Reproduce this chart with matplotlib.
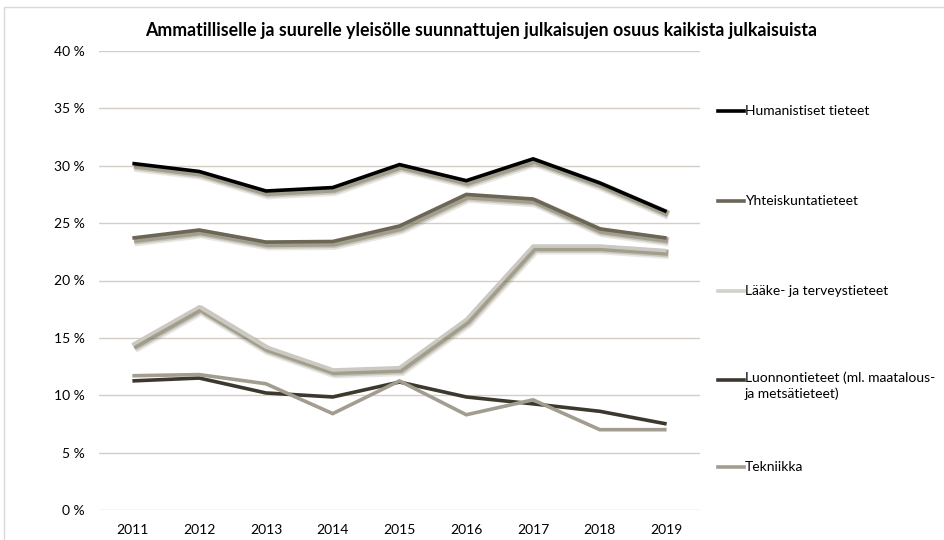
import matplotlib
matplotlib.use("Agg")
import matplotlib.pyplot as plt
import matplotlib.patheffects as pe
from matplotlib.lines import Line2D
from matplotlib.patches import Rectangle

plt.rcParams['font.family'] = ['Lato', 'DejaVu Sans']

years = ["2011", "2012", "2013", "2014", "2015", "2016", "2017", "2018", "2019"]
humanistiset = [30.2, 29.5, 27.8, 28.1, 30.1, 28.7, 30.6, 28.5, 26.0]
yhteiskunta = [23.7, 24.4, 23.35, 23.4, 24.75, 27.5, 27.1, 24.5, 23.7]
laake = [14.4, 17.7, 14.2, 12.2, 12.4, 16.6, 23.0, 23.0, 22.6]
luonnon = [11.25, 11.5, 10.2, 9.85, 11.15, 9.85, 9.25, 8.6, 7.5]
tekniikka = [11.7, 11.8, 11.0, 8.4, 11.25, 8.3, 9.6, 7.0, 7.0]

labels = ["Humanistiset tieteet", "Yhteiskuntatieteet", "Lääke- ja terveystieteet",
          "Luonnontieteet (ml. maatalous-\nja metsätieteet)", "Tekniikka"]
series = [humanistiset, yhteiskunta, laake, luonnon, tekniikka]
colors = ["#000000", "#6b6656", "#cbc9c1", "#3c382d", "#a29d90"]
shadowed = [True, True, True, False, False]
yticks = [0, 5, 10, 15, 20, 25, 30, 35, 40]
ytick_labels = [f"{v} %" for v in yticks]

fig = plt.figure(figsize=(9.45, 5.4), dpi=100)
fig.patches.append(Rectangle((0.004, -0.01), 1.0, 0.997, transform=fig.transFigure,
                             fill=False, edgecolor="#d9d9d9", linewidth=1.0))
ax = fig.add_axes([99/945, 1-510/540, 601/945, 459/540])

x = list(range(len(years)))
for vals, c, sh in zip(series, colors, shadowed):
    effects = []
    if sh:
        for off, a, lw in [((1.6, -2.6), 0.15, 7.0), ((1.3, -2.1), 0.25, 5.5),
                           ((1.0, -1.7), 0.4, 4.0)]:
            effects.append(pe.SimpleLineShadow(offset=off, shadow_color="#6b6448", alpha=a, linewidth=lw))
    effects.append(pe.Normal())
    ax.plot(x, vals, color=c, linewidth=2.6, solid_capstyle="butt",
            solid_joinstyle="miter", path_effects=effects, zorder=3)

ax.set_xlim(-0.5, len(years) - 0.5)
ax.set_ylim(0, 40)
ax.set_yticks(yticks)
ax.set_yticklabels(ytick_labels, fontsize=10)
ax.set_xticks(x)
ax.set_xticklabels(years, fontsize=10)
ax.tick_params(length=0, pad=10, colors="#000000")
ax.tick_params(axis="x", pad=10)
ax.grid(axis="y", color="#d4cec6", linewidth=1.0)
ax.set_axisbelow(True)
for s in ax.spines.values():
    s.set_visible(False)

fig.text(481/945, 1-31/540, "Ammatilliselle ja suurelle yleisölle suunnattujen julkaisujen osuus kaikista julkaisuista",
         ha="center", va="center", fontsize=12.8, fontweight="bold")

legend_y = [111, 201, 291, 380, 467]
legend_colors = ["#000000", "#6b6656", "#d3d1ca", "#3c382d", "#a29d90"]
for lab, c, yy in zip(labels, legend_colors, legend_y):
    yf = 1 - yy/540
    fig.add_artist(Line2D([718/945, 744/945], [yf, yf], color=c, linewidth=2.6,
                          transform=fig.transFigure))
    if "\n" in lab:
        fig.text(745/945, 1 - (yy - 9)/540, lab, ha="left", va="top", fontsize=10,
                 linespacing=1.35)
    else:
        fig.text(745/945, yf, lab, ha="left", va="center", fontsize=10)

fig.savefig("out.png", dpi=100)
